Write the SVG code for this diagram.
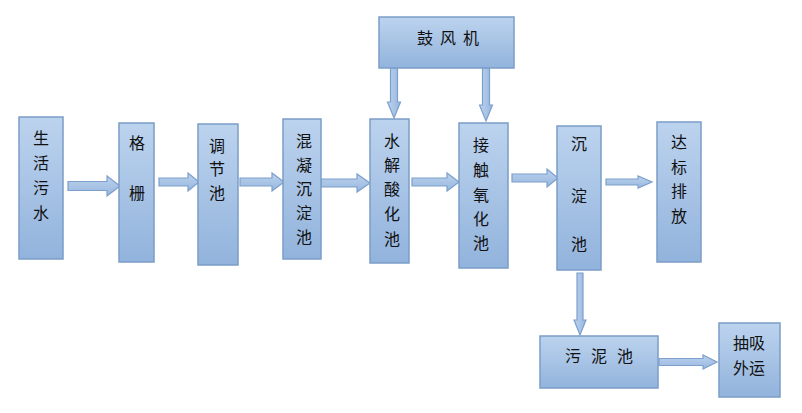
<svg xmlns="http://www.w3.org/2000/svg" width="802" height="413" viewBox="0 0 802 413">
<defs>
<linearGradient id="gBox" x1="0" y1="0" x2="0" y2="1">
<stop offset="0" stop-color="#bcd3ee"/>
<stop offset="1" stop-color="#92b3dc"/>
</linearGradient>
<linearGradient id="gArrH" x1="0" y1="0" x2="0" y2="1">
<stop offset="0" stop-color="#bdd3ee"/>
<stop offset="1" stop-color="#97b6de"/>
</linearGradient>
<linearGradient id="gArrV" x1="0" y1="0" x2="1" y2="0">
<stop offset="0" stop-color="#bdd3ee"/>
<stop offset="1" stop-color="#97b6de"/>
</linearGradient>
<style>
.box{fill:url(#gBox);stroke:#7b9dc8;stroke-width:1.5}
.ah{fill:url(#gArrH);stroke:#7c9fcc;stroke-width:1.2}
.av{fill:url(#gArrV);stroke:#7c9fcc;stroke-width:1.2}
text{font-family:"Noto Sans CJK SC","Noto Sans CJK JP",sans-serif;font-size:16px;fill:#111;text-anchor:middle;dominant-baseline:central}
</style>
</defs>
<rect width="802" height="413" fill="#ffffff"/>
<g id="connectors">
<path class="ah" d="M68,181.5 L107,181.5 L107,176 L120,186 L107,196 L107,190.5 L68,190.5 Z"/>
<path class="ah" d="M159,178 L188,178 L188,173 L199,182 L188,191 L188,186 L159,186 Z"/>
<path class="ah" d="M240,178 L272,178 L272,173 L284,182 L272,191 L272,186 L240,186 Z"/>
<path class="ah" d="M321,179 L357,179 L357,174 L370,183 L357,192 L357,187 L321,187 Z"/>
<path class="ah" d="M412,178 L447,178 L447,173 L459,182 L447,191 L447,186 L412,186 Z"/>
<path class="ah" d="M512,174 L547,174 L547,169 L558,178 L547,187 L547,182 L512,182 Z"/>
<path class="ah" d="M606,179 L638,179 L638,176 L652,182 L638,188 L638,185 L606,185 Z"/>
<path class="ah" d="M659,358.5 L703,358.5 L703,355 L717,362 L703,369 L703,365.5 L659,365.5 Z"/>
<path class="av" d="M390.5,68 L390.5,102 L387.5,102 L394,118 L400.5,102 L397.5,102 L397.5,68 Z"/>
<path class="av" d="M482.5,68 L482.5,105 L479.5,105 L486,121 L492.5,105 L489.5,105 L489.5,68 Z"/>
<path class="av" d="M577,273 L577,320 L574,320 L580,335 L586,320 L583,320 L583,273 Z"/>
</g>
<g id="n-shenghuowushui"><rect class="box" x="19" y="117" width="44" height="142"/>
<text x="41" y="137">生</text><text x="41" y="162">活</text><text x="41" y="187">污</text><text x="41" y="212">水</text></g>
<g id="n-gezha"><rect class="box" x="119" y="123" width="35" height="139"/>
<text x="137" y="142">格</text><text x="137" y="192">栅</text></g>
<g id="n-tiaojiechi"><rect class="box" x="198" y="124" width="40" height="141"/>
<text x="217" y="145">调</text><text x="217" y="168">节</text><text x="217" y="192">池</text></g>
<g id="n-hunning"><rect class="box" x="283" y="119" width="38" height="140"/>
<text x="304" y="140">混</text><text x="304" y="164">凝</text><text x="304" y="188">沉</text><text x="304" y="212">淀</text><text x="304" y="236">池</text></g>
<g id="n-shuijie"><rect class="box" x="370" y="119" width="39" height="144"/>
<text x="392" y="140">水</text><text x="392" y="164">解</text><text x="392" y="188">酸</text><text x="392" y="213">化</text><text x="392" y="238">池</text></g>
<g id="n-jiechu"><rect class="box" x="459" y="123" width="49" height="145"/>
<text x="481" y="144">接</text><text x="481" y="169">触</text><text x="481" y="194">氧</text><text x="481" y="218">化</text><text x="481" y="242">池</text></g>
<g id="n-gufengji"><rect class="box" x="379" y="17" width="135" height="51"/>
<text x="425" y="37">鼓</text><text x="448" y="37">风</text><text x="471" y="37">机</text></g>
<g id="n-chendianchi"><rect class="box" x="557" y="126" width="44" height="144"/>
<text x="579" y="143">沉</text><text x="579" y="195">淀</text><text x="579" y="243">池</text></g>
<g id="n-dabiao"><rect class="box" x="657" y="122" width="44" height="140"/>
<text x="679" y="141">达</text><text x="679" y="166">标</text><text x="679" y="190">排</text><text x="679" y="215">放</text></g>
<g id="n-wunichi"><rect class="box" x="540" y="336" width="118" height="52"/>
<text x="573" y="355">污</text><text x="599" y="355">泥</text><text x="625" y="355">池</text></g>
<g id="n-chouxi"><rect class="box" x="719" y="323" width="61" height="74"/>
<text x="749" y="342">抽吸</text><text x="749" y="367">外运</text></g>
</svg>
